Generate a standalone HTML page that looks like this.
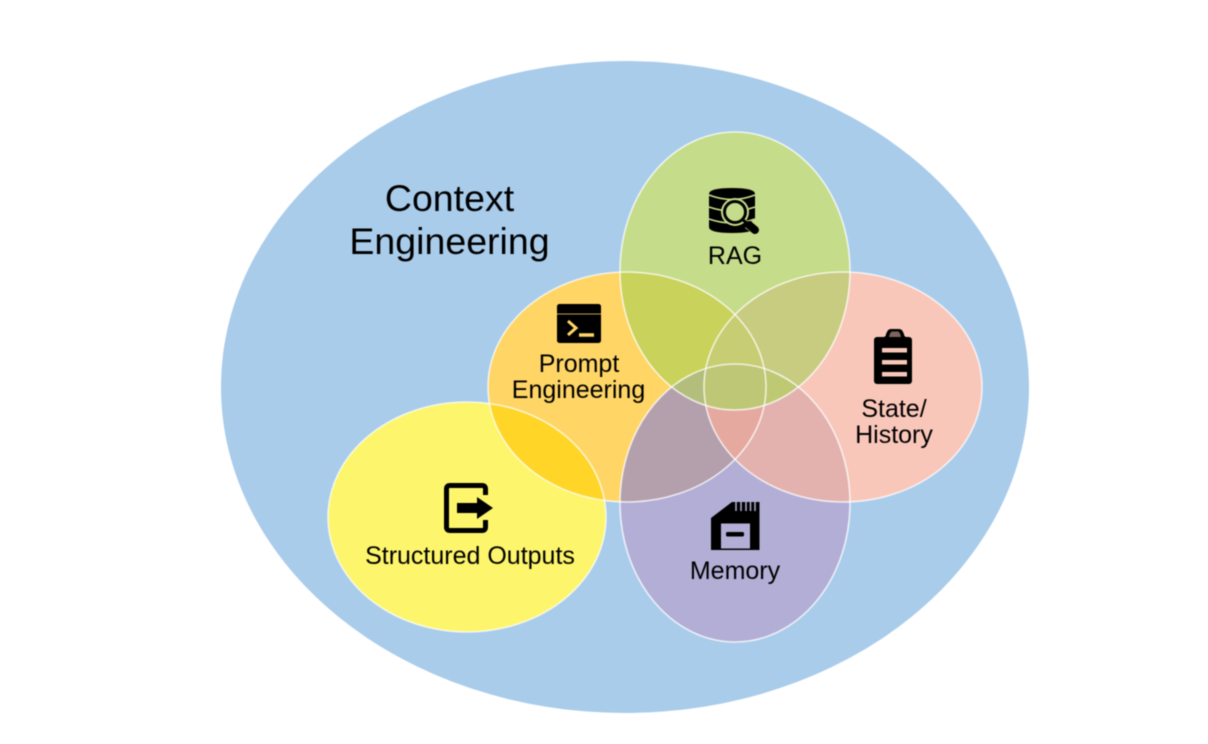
<!DOCTYPE html>
<html><head><meta charset="utf-8"><style>
html,body{margin:0;padding:0;background:#fff}
svg{display:block;filter:blur(.45px)}
text{font-family:"Liberation Sans",Arial,sans-serif;fill:#000;text-anchor:middle}
</style></head><body>
<svg width="1208" height="744" viewBox="0 0 1208 744" xmlns="http://www.w3.org/2000/svg">
<defs>
<clipPath id="cS"><ellipse cx="467" cy="517" rx="139" ry="115"/></clipPath>
<clipPath id="cP"><ellipse cx="627" cy="387" rx="139" ry="115"/></clipPath>
<clipPath id="cR"><ellipse cx="735" cy="271" rx="115" ry="139"/></clipPath>
<clipPath id="cT"><ellipse cx="843" cy="387" rx="139" ry="115"/></clipPath>
<clipPath id="cM"><ellipse cx="735" cy="503" rx="115" ry="139"/></clipPath>
</defs>
<rect width="1208" height="744" fill="#fff"/>
<ellipse cx="625" cy="387" rx="404" ry="326" fill="#A9CCEB"/>
<ellipse cx="467" cy="517" rx="139" ry="115" fill="#FDF56B"/>
<ellipse cx="627" cy="387" rx="139" ry="115" fill="#FFD566"/>
<ellipse cx="735" cy="271" rx="115" ry="139" fill="#C5DC8A"/>
<ellipse cx="843" cy="387" rx="139" ry="115" fill="#F9C7BA"/>
<ellipse cx="735" cy="503" rx="115" ry="139" fill="#B3AED6"/>
<g clip-path="url(#cP)"><ellipse cx="467" cy="517" rx="139" ry="115" fill="#FFD528"/></g>
<g clip-path="url(#cP)"><ellipse cx="735" cy="271" rx="115" ry="139" fill="#C9D25B"/></g>
<g clip-path="url(#cR)"><ellipse cx="843" cy="387" rx="139" ry="115" fill="#C7CC80"/></g>
<g clip-path="url(#cM)"><ellipse cx="627" cy="387" rx="139" ry="115" fill="#B4A0AC"/></g>
<g clip-path="url(#cM)"><ellipse cx="843" cy="387" rx="139" ry="115" fill="#E3B2AE"/></g>
<g clip-path="url(#cP)"><ellipse cx="843" cy="387" rx="139" ry="115" fill="#C7CD72"/></g>
<g clip-path="url(#cP)"><g clip-path="url(#cM)"><ellipse cx="843" cy="387" rx="139" ry="115" fill="#E6A9A0"/></g></g>
<g clip-path="url(#cM)"><ellipse cx="735" cy="271" rx="115" ry="139" fill="#BFC974"/></g>
<g clip-path="url(#cM)"><g clip-path="url(#cP)"><ellipse cx="735" cy="271" rx="115" ry="139" fill="#B3BD7C"/></g></g>
<g clip-path="url(#cM)"><g clip-path="url(#cP)"><g clip-path="url(#cT)"><ellipse cx="735" cy="271" rx="115" ry="139" fill="#BEC775"/></g></g></g>
<g fill="none" stroke="#fff" stroke-opacity=".75" stroke-width="1.600">
<ellipse cx="467" cy="517" rx="139" ry="115"/>
<ellipse cx="627" cy="387" rx="139" ry="115"/>
<ellipse cx="735" cy="271" rx="115" ry="139"/>
<ellipse cx="843" cy="387" rx="139" ry="115"/>
<ellipse cx="735" cy="503" rx="115" ry="139"/>
</g>

<text x="449.500" y="211" font-size="37.500">Context</text>
<text x="449.500" y="254" font-size="37.500">Engineering</text>
<text x="735" y="264" font-size="25">RAG</text>
<text x="579" y="372" font-size="25">Prompt</text>
<text x="578.500" y="398" font-size="25">Engineering</text>
<text x="894" y="417" font-size="25">State/</text>
<text x="894" y="443" font-size="25">History</text>
<text x="470" y="564" font-size="25">Structured Outputs</text>
<text x="735" y="579" font-size="25">Memory</text>

<!-- RAG icon -->
<path d="M709 194q0-6 23-6t23 6v33q0 6-23 6t-23-6z" fill="#000"/>
<g fill="none" stroke="#C5DC8A" stroke-width="1.500">
<path d="M709 195q23 9 46 0"/>
<path d="M709 207q23 8 46 0"/>
<path d="M709 219q23 8 46 0"/>
</g>
<circle cx="735" cy="212" r="14" fill="#C5DC8A"/>
<path d="M745 228l9-9 6 6v8h-8z" fill="#C5DC8A"/>
<circle cx="735" cy="212" r="10.500" fill="#C5DC8A" stroke="#000" stroke-width="3"/>
<path d="M743 220l5 4" stroke="#000" stroke-width="3"/>
<path d="M749 225l6 5" stroke="#000" stroke-width="8" stroke-linecap="round"/>

<!-- Prompt icon -->
<rect x="557" y="304" width="44" height="39" rx="2.500" fill="#000"/>
<path d="M557 314h44" stroke="#FFD566" stroke-width=".8"/>
<path d="M568 321l8 7-8 7" fill="none" stroke="#FFD566" stroke-width="3"/>
<path d="M579 335h15" stroke="#FFD566" stroke-width="3.500"/>

<!-- State icon -->
<path d="M877 337h6q3 0 3-3l1-2q1-3 4-3h8q3 0 4 3l1 2q0 3 3 3h2a3 3 0 0 1 3 3v41a3 3 0 0 1-3 3h-32a3 3 0 0 1-3-3v-41a3 3 0 0 1 3-3z" fill="#000"/>
<path d="M889 337q1-5 3-5.500h6q2 .5 3 5.500z" fill="#F9C7BA" opacity=".5"/>
<g fill="#F9C7BA"><rect x="882" y="348" width="25" height="4.500"/><rect x="882" y="360" width="25" height="4.500"/><rect x="882" y="372" width="25" height="4.500"/></g>

<!-- Structured Outputs icon -->
<path d="M485.500 495v-6q0-3.500-3.500-3.500h-32q-3.500 0-3.500 3.500v38q0 3.500 3.500 3.500h32q3.500 0 3.500-3.500v-7" fill="none" stroke="#000" stroke-width="5"/>
<path d="M457 503h20v-6l16 11-16 11v-6h-20z" fill="#000"/>

<!-- Memory icon -->
<path d="M732 502h27.500v48h-48.500v-32z" fill="#000"/>
<rect x="721" y="523.500" width="29" height="25" fill="#B3AED6"/>
<rect x="726" y="532" width="18" height="4.500" rx="1.500" fill="#000"/>
<g stroke="#B3AED6" stroke-width="1.500"><path d="M736 502v9M741 502v9M746 502v9M750.500 502v9M755 502v9"/></g>
</svg>
</body></html>
